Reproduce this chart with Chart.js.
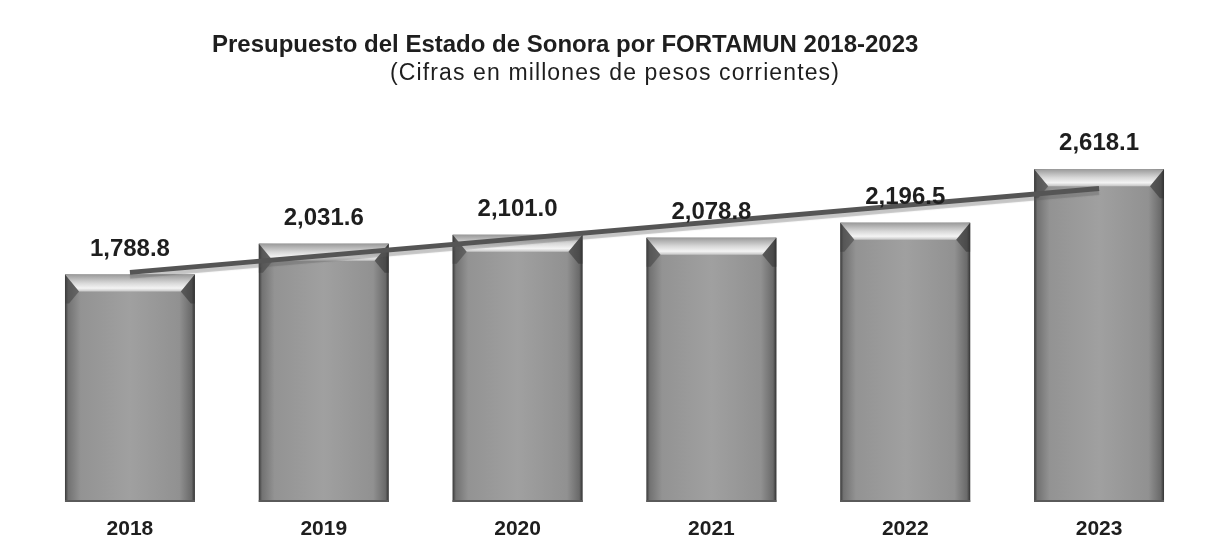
<!DOCTYPE html>
<html><head><meta charset="utf-8">
<script src="https://cdn.jsdelivr.net/npm/chart.js@4"></script>
<style>html,body{margin:0;padding:0;background:#fff}</style>
</head><body>
<canvas id="c" width="1219" height="554"></canvas>
<script>
const categories = ['2018', '2019', '2020', '2021', '2022', '2023'];
const budget = [1788.8, 2031.6, 2101.0, 2078.8, 2196.5, 2618.1];
const trend = [1806, null, null, null, null, 2466];
const titleText = 'Presupuesto del Estado de Sonora por FORTAMUN 2018-2023';
const subtitleText = '(Cifras en millones de pesos corrientes)';

const FONT = "'Liberation Sans', Arial, sans-serif";

const headings = {
  id: 'headings',
  afterDraw(chart) {
    const ctx = chart.ctx;
    ctx.save();
    ctx.fillStyle = '#1e1e1e';
    ctx.textAlign = 'left';
    ctx.textBaseline = 'alphabetic';
    ctx.font = 'bold 24px ' + FONT;
    ctx.letterSpacing = '0px';
    ctx.fillText(titleText, 212, 52);
    ctx.font = '23px ' + FONT;
    ctx.letterSpacing = '0px';
    const w = ctx.measureText(subtitleText).width;
    const sp = Math.max(0, (450 - w) / subtitleText.length);
    ctx.letterSpacing = sp.toFixed(2) + 'px';
    ctx.fillText(subtitleText, 390, 80);
    ctx.restore();
  }
};

const bevel = {
  id: 'bevel',
  afterDatasetDraw(chart, args) {
    if (args.index === 1) { chart.ctx.restore(); return; }
    if (args.index !== 0) return;
    const ctx = chart.ctx;
    args.meta.data.forEach(bar => {
      const p = bar.getProps(['x', 'y', 'base', 'width'], true);
      const L = p.x - p.width / 2, R = p.x + p.width / 2, T = p.y, B = p.base, W = p.width;
      const d = 17, s = 14;
      ctx.save();
      let g = ctx.createLinearGradient(L, 0, R, 0);
      g.addColorStop(0, '#3a3a3a');
      g.addColorStop(0.025, '#727272');
      g.addColorStop(0.12, '#939393');
      g.addColorStop(0.5, '#a0a0a0');
      g.addColorStop(0.88, '#919191');
      g.addColorStop(0.975, '#6a6a6a');
      g.addColorStop(1, '#333');
      ctx.fillStyle = g;
      ctx.fillRect(L, T, W, B - T);
      g = ctx.createLinearGradient(0, T, 0, T + d);
      g.addColorStop(0, '#9a9a9a');
      g.addColorStop(0.5, '#d8d8d8');
      g.addColorStop(0.8, '#f4f4f4');
      g.addColorStop(1, '#c4c4c4');
      ctx.beginPath();
      ctx.moveTo(L, T); ctx.lineTo(R, T); ctx.lineTo(R - s, T + d); ctx.lineTo(L + s, T + d); ctx.closePath();
      ctx.fillStyle = g; ctx.fill();
      ctx.beginPath();
      ctx.moveTo(L, T); ctx.lineTo(L + s, T + d); ctx.lineTo(L + 4, T + d + 12); ctx.lineTo(L, T + d + 12); ctx.closePath();
      ctx.fillStyle = 'rgba(60,60,60,0.5)'; ctx.fill();
      ctx.beginPath();
      ctx.moveTo(R, T); ctx.lineTo(R - s, T + d); ctx.lineTo(R - 4, T + d + 12); ctx.lineTo(R, T + d + 12); ctx.closePath();
      ctx.fillStyle = 'rgba(50,50,50,0.55)'; ctx.fill();
      ctx.fillStyle = '#5a5a5a';
      ctx.fillRect(L, B - 2, W, 2);
      ctx.restore();
    });
  },
  beforeDatasetDraw(chart, args) {
    if (args.index !== 1) return;
    const ctx = chart.ctx;
    ctx.save();
    ctx.shadowColor = 'rgba(90,90,90,0.35)';
    ctx.shadowOffsetY = 4;
    ctx.shadowBlur = 1;
  }
};

const valueLabels = {
  id: 'valueLabels',
  afterDatasetsDraw(chart) {
    const ctx = chart.ctx;
    const meta = chart.getDatasetMeta(0);
    ctx.save();
    ctx.font = 'bold 24px ' + FONT;
    ctx.fillStyle = '#1e1e1e';
    ctx.textAlign = 'center';
    ctx.textBaseline = 'alphabetic';
    meta.data.forEach((bar, i) => {
      const v = budget[i].toLocaleString('en-US', { minimumFractionDigits: 1, maximumFractionDigits: 1 });
      ctx.fillText(v, bar.x, bar.y - 19);
    });
    ctx.restore();
  }
};

new Chart(document.getElementById('c'), {
  data: {
    labels: categories,
    datasets: [
      {
        type: 'bar',
        data: budget,
        backgroundColor: '#999',
        barPercentage: 0.67,
        categoryPercentage: 1,
        order: 2
      },
      {
        type: 'line',
        data: trend,
        spanGaps: true,
        borderColor: '#555',
        borderWidth: 5,
        pointRadius: 0,
        tension: 0,
        order: 1
      }
    ]
  },
  options: {
    responsive: false,
    animation: false,
    layout: { autoPadding: false, padding: { left: 33, right: 23, bottom: 0, top: 146 } },
    plugins: {
      legend: { display: false },
      tooltip: { enabled: false },
      title: { display: false },
      subtitle: { display: false }
    },
    scales: {
      x: {
        grid: { display: false, drawTicks: false },
        border: { display: false },
        ticks: { color: '#1e1e1e', font: { family: FONT, size: 21, weight: 'bold' }, padding: 15 },
        afterFit(scale) { scale.height = 52; }
      },
      y: { display: false, min: 0, max: 2800 }
    }
  },
  plugins: [bevel, valueLabels, headings]
});
</script>
</body></html>
